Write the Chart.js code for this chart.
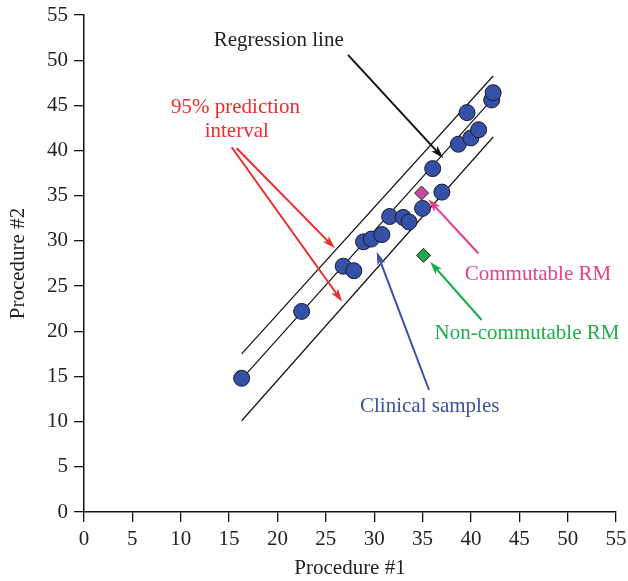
<!DOCTYPE html>
<html>
<head>
<meta charset="utf-8">
<script src="https://cdn.jsdelivr.net/npm/chart.js@4/dist/chart.umd.min.js"></script>
<style>
  html, body { margin: 0; padding: 0; background: #fff; }
  #wrap { width: 628px; height: 581px; }
</style>
</head>
<body>
<div id="wrap"><canvas id="chart" width="628" height="581"></canvas></div>
<script>
// clinical samples (procedure #1 vs procedure #2)
const sampleX = [16.3, 22.5, 26.8, 27.9, 28.9, 29.7, 30.8, 31.6, 33.0, 33.6, 35.0, 36.05, 37.0, 38.7, 39.6, 40.0, 40.8, 42.15, 42.3];
const sampleY = [14.8, 22.2, 27.2, 26.7, 29.9, 30.2, 30.7, 32.7, 32.6, 32.1, 33.6, 38.0, 35.4, 40.7, 44.2, 41.4, 42.3, 45.6, 46.4];

// reference materials
const commutableRM = [34.9, 35.3];
const nonCommutableRM = [35.1, 28.4];

// regression line and 95% prediction interval (end points)
const lineX = [16.3, 42.3];
const regressionY = [14.7, 45.8];
const upperPI = [17.5, 48.25];
const lowerPI = [10.1, 41.5];

const axisTicks = [0, 5, 10, 15, 20, 25, 30, 35, 40, 45, 50, 55];

// annotation labels and arrows, in data units
const labels = [
    { text: 'Regression line', x: 20.13, y: 52.16, color: '#222222' },
    { text: '95% prediction', x: 15.66, y: 44.82, color: '#ee2b2b' },
    { text: 'interval', x: 15.79, y: 42.09, color: '#ee2b2b' },
    { text: 'Commutable RM', x: 46.93, y: 26.23, color: '#e83e8c' },
    { text: 'Non-commutable RM', x: 45.8, y: 19.78, color: '#1fae4b' },
    { text: 'Clinical samples', x: 35.74, y: 11.73, color: '#3b4fa3' }
];
const arrows = [
    { from: [27.29, 50.58], to: [37.15, 39.14], color: '#111111' },
    { from: [15.79, 40.25], to: [25.95, 29.18], color: '#ee2b2b' },
    { from: [15.27, 40.36], to: [26.7, 23.27], color: '#ee2b2b' },
    { from: [35.67, 13.5], to: [30.26, 28.81], color: '#3b4fa3' },
    { from: [40.76, 28.63], to: [35.59, 34.61], color: '#e8388f' },
    { from: [41.11, 21.25], to: [35.77, 27.7], color: '#1aaa4a' }
];

const FONT = "'Liberation Serif', 'DejaVu Serif', serif";

const toPoints = (xs, ys) => xs.map((x, i) => ({ x, y: ys[i] }));

const annotationPlugin = {
    id: 'annotations',
    afterDatasetsDraw(chart) {
        const { ctx, scales: { x, y } } = chart;
        ctx.save();
        arrows.forEach(a => {
            const x1 = x.getPixelForValue(a.from[0]), y1 = y.getPixelForValue(a.from[1]);
            const x2 = x.getPixelForValue(a.to[0]), y2 = y.getPixelForValue(a.to[1]);
            const ang = Math.atan2(y2 - y1, x2 - x1);
            const head = 14, spread = 0.3;
            ctx.strokeStyle = a.color;
            ctx.fillStyle = a.color;
            ctx.lineWidth = 2;
            ctx.beginPath();
            ctx.moveTo(x1, y1);
            ctx.lineTo(x2 - Math.cos(ang) * head * 0.7, y2 - Math.sin(ang) * head * 0.7);
            ctx.stroke();
            ctx.beginPath();
            ctx.moveTo(x2, y2);
            ctx.lineTo(x2 - head * Math.cos(ang - spread), y2 - head * Math.sin(ang - spread));
            ctx.lineTo(x2 - head * 0.7 * Math.cos(ang), y2 - head * 0.7 * Math.sin(ang));
            ctx.lineTo(x2 - head * Math.cos(ang + spread), y2 - head * Math.sin(ang + spread));
            ctx.closePath();
            ctx.fill();
        });
        ctx.font = '21px ' + FONT;
        ctx.textAlign = 'center';
        ctx.textBaseline = 'middle';
        labels.forEach(l => {
            ctx.fillStyle = l.color;
            ctx.fillText(l.text, x.getPixelForValue(l.x), y.getPixelForValue(l.y));
        });
        ctx.restore();
    }
};

const lineStyle = { showLine: true, borderColor: '#111111', borderWidth: 1.2, pointRadius: 0, fill: false, order: 3 };

new Chart(document.getElementById('chart'), {
    type: 'scatter',
    data: {
        datasets: [
            { label: 'Upper PI', data: toPoints(lineX, upperPI), ...lineStyle },
            { label: 'Regression', data: toPoints(lineX, regressionY), ...lineStyle },
            { label: 'Lower PI', data: toPoints(lineX, lowerPI), ...lineStyle },
            {
                label: 'Clinical samples',
                data: toPoints(sampleX, sampleY),
                backgroundColor: '#3451a6',
                borderColor: '#1a1a2e',
                borderWidth: 1,
                pointRadius: 8,
                order: 1
            },
            {
                label: 'Commutable RM',
                data: [{ x: commutableRM[0], y: commutableRM[1] }],
                pointStyle: 'rectRot',
                backgroundColor: '#cc4a9e',
                borderColor: '#222222',
                borderWidth: 1,
                pointRadius: 7,
                order: 0
            },
            {
                label: 'Non-commutable RM',
                data: [{ x: nonCommutableRM[0], y: nonCommutableRM[1] }],
                pointStyle: 'rectRot',
                backgroundColor: '#22a84a',
                borderColor: '#222222',
                borderWidth: 1,
                pointRadius: 7,
                order: 0
            }
        ]
    },
    options: {
        responsive: false,
        animation: false,
        layout: { padding: { top: 15, right: 12, left: 0, bottom: 0 } },
        plugins: { legend: { display: false }, tooltip: { enabled: false } },
        scales: {
            x: {
                type: 'linear',
                min: 0, max: 55,
                afterBuildTicks: s => { s.ticks = axisTicks.map(v => ({ value: v })); },
                afterFit: s => { s.height = 69; s.paddingLeft = 0; s.paddingRight = 0; },
                grid: { drawOnChartArea: false, drawTicks: true, tickLength: 10, color: '#111111', lineWidth: 1.3 },
                border: { display: true, color: '#111111', width: 1.5 },
                ticks: { color: '#222222', font: { family: FONT, size: 21 }, padding: 5, maxRotation: 0 },
                title: { display: true, text: 'Procedure #1', color: '#222222', font: { family: FONT, size: 21 }, padding: { top: 2, bottom: 0 } }
            },
            y: {
                type: 'linear',
                min: 0, max: 55,
                afterBuildTicks: s => { s.ticks = axisTicks.map(v => ({ value: v })); },
                afterFit: s => { s.width = 84; s.paddingTop = 0; s.paddingBottom = 0; },
                grid: { drawOnChartArea: false, drawTicks: true, tickLength: 10, color: '#111111', lineWidth: 1.3 },
                border: { display: true, color: '#111111', width: 1.5 },
                ticks: { color: '#222222', font: { family: FONT, size: 21 }, padding: 6 },
                title: { display: true, text: 'Procedure #2', color: '#222222', font: { family: FONT, size: 21 }, padding: { top: 6, bottom: 0 } }
            }
        }
    },
    plugins: [annotationPlugin]
});
</script>
</body>
</html>
